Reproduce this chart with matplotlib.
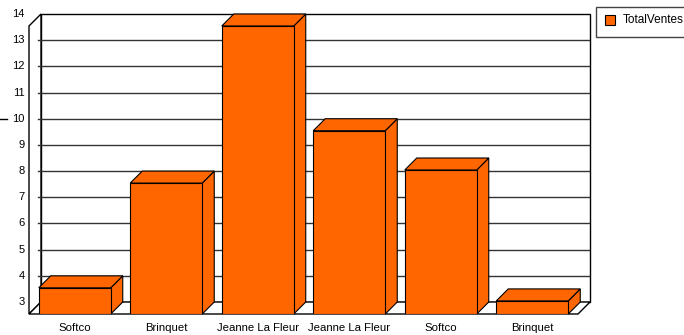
import matplotlib.pyplot as plt
from matplotlib.patches import Polygon, Rectangle
from matplotlib.lines import Line2D

categories = ["Softco", "Brinquet", "Jeanne La Fleur", "Jeanne La Fleur", "Softco", "Brinquet"]
ventes = [4, 8, 14, 10, 8.5, 3.5]
yticks = [3, 4, 5, 6, 7, 8, 9, 10, 11, 12, 13, 14]

orange = "#ff6600"
floor = 3
dx = 0.131   # depth in category units
dy = 0.458   # depth in value units
w = 0.787

plt.rcParams['font.family'] = ['Liberation Sans', 'DejaVu Sans']
fig = plt.figure(figsize=(6.84, 3.35), dpi=100)
W, H = 684, 335
ax = fig.add_axes([29 / W, 1 - 314 / H, (590 - 29) / W, 300 / H])
ax.set_xlim(-0.5, len(categories) - 0.5 + dx)
ax.set_ylim(floor - dy, max(yticks))
ax.axis('off')

x0, x1 = -0.5, len(categories) - 0.5
top = max(yticks)

# walls and floor
ax.add_patch(Rectangle((x0 + dx, floor), x1 - x0, top - floor, fc='white', ec='black', lw=1,
                       zorder=1, clip_on=False))
ax.add_patch(Polygon([(x0, floor - dy), (x0 + dx, floor), (x0 + dx, top), (x0, top - dy)],
                     closed=True, fc='white', ec='black', lw=1, zorder=1, clip_on=False))
ax.add_patch(Polygon([(x0, floor - dy), (x1, floor - dy), (x1 + dx, floor), (x0 + dx, floor)],
                     closed=True, fc='white', ec='black', lw=1, zorder=1, clip_on=False))

# grid lines on back wall
for v in yticks[1:-1]:
    ax.plot([x0 + dx - 0.03, x1 + dx], [v, v], color='#333333', lw=1, zorder=2)
for v in yticks:
    ax.text(x0 - 0.05, v, str(v), ha='right', va='center', fontsize=8, clip_on=False)

# 3D bars
for i, v in enumerate(ventes):
    l, r = i - w / 2, i + w / 2
    ax.add_patch(Polygon([(r, floor - dy), (r + dx, floor), (r + dx, v), (r, v - dy)],
                         closed=True, fc=orange, ec='black', lw=0.8, zorder=3, clip_on=False))
    ax.add_patch(Polygon([(l, v - dy), (r, v - dy), (r + dx, v), (l + dx, v)],
                         closed=True, fc=orange, ec='black', lw=0.8, zorder=3, clip_on=False))
    ax.add_patch(Rectangle((l, floor - dy), w, v - floor, fc=orange, ec='black', lw=0.8, zorder=4))
    ax.text(i, floor - dy - 0.33, categories[i], ha='center', va='top', fontsize=8.2, clip_on=False)

# small mark near the 10 label
fig.add_artist(Line2D([0, 7 / W], [1 - 119 / H, 1 - 119 / H], color='black', lw=1))

# legend box
fig.add_artist(Rectangle((596 / W, 1 - 37 / H), 95 / W, 30 / H, fc='white', ec='#444444', lw=1))
fig.add_artist(Rectangle((605 / W, 1 - 25 / H), 10 / W, 10 / H, fc=orange, ec='black', lw=0.8))
fig.text(623 / W, 1 - 20 / H, "TotalVentes", fontsize=8.5, va='center', ha='left')

fig.savefig('out.png', dpi=100)
